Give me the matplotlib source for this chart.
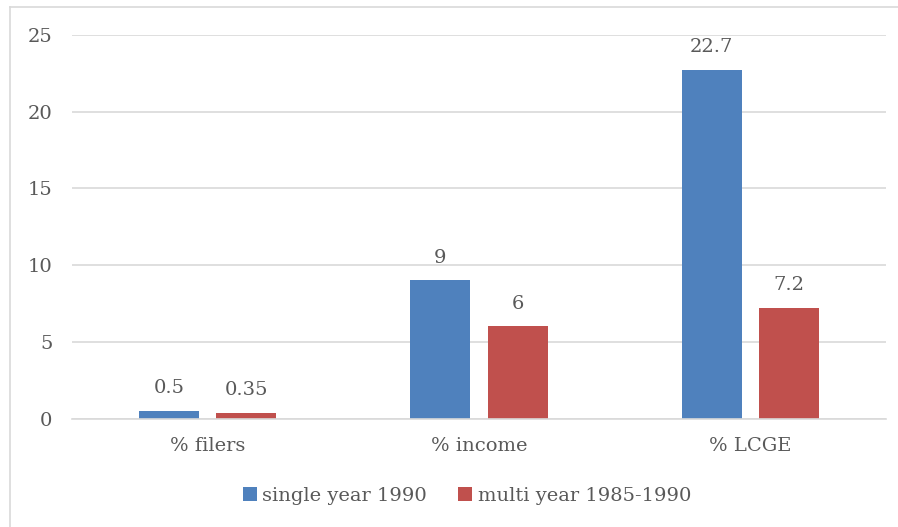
import numpy as np
import matplotlib.pyplot as plt
from matplotlib.lines import Line2D

categories = ['% filers', '% income', '% LCGE']
single_year = [0.5, 9, 22.7]
multi_year = [0.35, 6, 7.2]
series_names = ['single year 1990', 'multi year 1985-1990']
yticks = [0, 5, 10, 15, 20, 25]

blue = '#4F81BD'
red = '#C0504D'
text_col = '#595959'
fs = 14

plt.rcParams['font.family'] = ['DejaVu Serif']

fig = plt.figure(figsize=(8.98, 5.27), dpi=100)
# chart border (only top and left edges are visible in the crop)
fig.lines.append(Line2D([10 / 898, 1.0], [1 - 7 / 527, 1 - 7 / 527],
                        transform=fig.transFigure, color='#D9D9D9', linewidth=1.2))
fig.lines.append(Line2D([10 / 898, 10 / 898], [0.0, 1 - 7 / 527],
                        transform=fig.transFigure, color='#D9D9D9', linewidth=1.2))

ax = fig.add_axes([72 / 898, (527 - 418.5) / 527, 814 / 898, 383.5 / 527])

x = np.arange(len(categories))
w = 0.222
gap = 0.063
b1 = ax.bar(x - (w + gap) / 2, single_year, w, color=blue, label=series_names[0])
b2 = ax.bar(x + (w + gap) / 2, multi_year, w, color=red, label=series_names[1])

for bars, vals in ((b1, single_year), (b2, multi_year)):
    for rect, v in zip(bars, vals):
        ax.text(rect.get_x() + rect.get_width() / 2, v + 0.9, f'{v:g}',
                ha='center', va='bottom', fontsize=fs, color=text_col)

ax.set_xlim(-0.5, 2.5)
ax.set_ylim(0, 25)
ax.set_yticks(yticks)
ax.set_xticks(x)
ax.set_xticklabels(categories)
ax.tick_params(axis='both', length=0, labelsize=fs, labelcolor=text_col)
ax.tick_params(axis='y', pad=14)
ax.tick_params(axis='x', pad=13)
ax.grid(axis='y', color='#D9D9D9', linewidth=1.2)
ax.set_axisbelow(True)
for s in ['top', 'right', 'left']:
    ax.spines[s].set_visible(False)
ax.spines['bottom'].set_color('#D9D9D9')
ax.spines['bottom'].set_linewidth(1.2)

fig.legend(loc='center', bbox_to_anchor=(467 / 898, (527 - 496) / 527), ncol=2,
           frameon=False, fontsize=fs, labelcolor=text_col,
           handlelength=0.7, handleheight=0.7, handletextpad=0.3,
           columnspacing=1.6)

fig.savefig('out.png', dpi=100)
